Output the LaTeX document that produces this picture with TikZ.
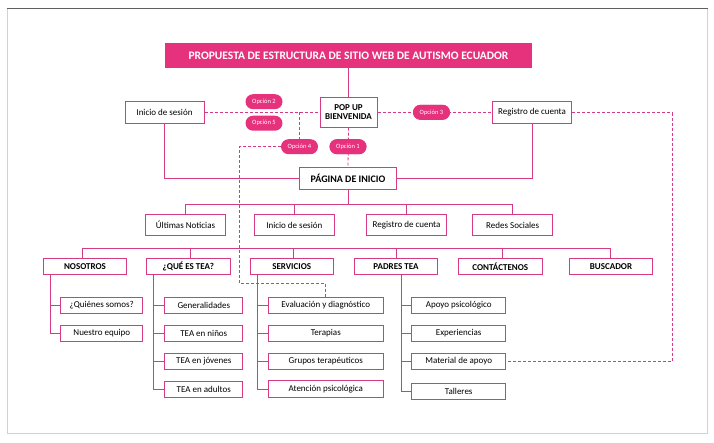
\documentclass[tikz,border=0pt]{standalone}
\usepackage{fontspec}
\setmainfont{Carlito}
\definecolor{pk}{HTML}{D63A84}
\definecolor{pkfill}{HTML}{E6317D}
\begin{document}
\begin{tikzpicture}[x=1pt,y=-1pt,
  bx/.style={draw=pk, line width=1pt, fill=white, inner sep=0pt, font=\fontsize{9}{10}\selectfont},
  hd/.style={bx, font=\fontsize{9}{10}\selectfont\bfseries, minimum width=83.4pt, minimum height=16pt},
  rowtwo/.style={bx, minimum width=80pt, minimum height=21pt},
  topbox/.style={bx, minimum width=79pt, minimum height=22pt},
  child/.style={bx, minimum height=16.4pt},
  pill/.style={fill=pkfill, text=white, rounded corners=7.5pt, minimum width=37pt, minimum height=15pt, inner sep=0pt, font=\fontsize{6.5}{7}\selectfont},
  ln/.style={draw=pk, line width=1pt},
  dl/.style={draw=pk, line width=0.8pt, dash pattern=on 3pt off 2pt}
]
\useasboundingbox (0,0) rectangle (714,442);
% frame
\draw[gray!35, line width=1pt] (7,8) rectangle (707.7,433);
\draw[gray!75!black, line width=1pt] (7,8) -- (707.7,8);

% top
\node[fill=pkfill, text=white, minimum width=367pt, minimum height=25pt, inner sep=0pt, font=\fontsize{11.5}{12}\selectfont\bfseries] (title) at (348.5,55.5) {PROPUESTA DE ESTRUCTURA DE SITIO WEB DE AUTISMO ECUADOR};
\node[bx, minimum width=57pt, minimum height=30pt, align=center, font=\fontsize{9}{9.5}\selectfont\bfseries] (popup) at (348.5,112) {POP UP\\BIENVENIDA};
\node[topbox] (ini1) at (164.5,112) {Inicio de sesión};
\node[topbox] (reg1) at (532,112.5) {Registro de cuenta};
\node[bx, minimum width=97pt, minimum height=22pt, font=\fontsize{10}{11}\selectfont\bfseries] (inicio) at (348,178.3) {PÁGINA DE INICIO};

% connectors top
\draw[ln] (title.south) -- (popup.north);
\draw[ln] (ini1.south) |- (inicio.west);
\draw[ln] (reg1.south) |- (inicio.east);
\draw[dl] (ini1.east) -- (popup.west);
\draw[dl] (popup.east) -- (reg1.west |- popup.east);
\draw[dl] (popup.south) -- (inicio.north);

% pills
\node[pill] (op2) at (264,101.7) {Opción 2};
\node[pill] (op5) at (264,123.2) {Opción 5};
\node[pill] (op4) at (299.5,146.7) {Opción 4};
\node[pill] (op1) at (348,146.7) {Opción 1};
\node[pill] (op3) at (431.5,112.3) {Opción 3};

% row 2
\node[rowtwo] (ult) at (185.5,225) {Últimas Noticias};
\node[rowtwo] (ini2) at (294.3,225) {Inicio de sesión};
\node[rowtwo] (reg2) at (406.5,225) {Registro de cuenta};
\node[rowtwo] (redes) at (512.7,225) {Redes Sociales};
\coordinate (b2) at (348,204.3);
\draw[ln] (inicio.south) -- (b2);
\draw[ln] (ult.north) |- (redes.north |- b2) -- (redes.north);
\draw[ln] (ini2.north) -- (ini2.north |- b2);
\draw[ln] (reg2.north) -- (reg2.north |- b2);

% row 3
\node[hd] (nos) at (85,266.3) {NOSOTROS};
\node[hd] (que) at (188.3,266.3) {¿QUÉ ES TEA?};
\node[hd] (serv) at (291.7,266.3) {SERVICIOS};
\node[hd] (padres) at (396,266.3) {PADRES TEA};
\node[hd] (cont) at (500.3,266.3) {CONTÁCTENOS};
\node[hd] (busc) at (611,266.3) {BUSCADOR};
\coordinate (b3) at (348,248.3);
\draw[ln] ([xshift=-2.5pt]nos.north) |- ([xshift=-0.3pt]busc.north |- b3) -- ([xshift=-0.3pt]busc.north);
\draw[ln] ([xshift=2pt]que.north) -- ([xshift=2pt]que.north |- b3);
\draw[ln] ([xshift=1.6pt]serv.north) -- ([xshift=1.6pt]serv.north |- b3);
\draw[ln] ([xshift=0.7pt]padres.north) -- ([xshift=0.7pt]padres.north |- b3);
\draw[ln] ([xshift=2pt]cont.north) -- ([xshift=2pt]cont.north |- b3);

% children: nosotros
\node[child, minimum width=81.7pt] (quien) at (101.8,305.5) {¿Quiénes somos?};
\node[child, minimum width=81.7pt] (nuestro) at (101.8,333.5) {Nuestro equipo};
\coordinate (spN) at ([xshift=7.4pt]nos.south west);
\draw[ln] (spN) |- (nuestro.west);
\draw[ln] (spN |- quien.west) -- (quien.west);

% children: que es tea
\node[child, minimum width=77.7pt] (gen) at (203.8,305.5) {Generalidades};
\node[child, minimum width=77.7pt] (ninos) at (203.8,333.5) {TEA en niños};
\node[child, minimum width=77.7pt] (jov) at (203.8,361.3) {TEA en jóvenes};
\node[child, minimum width=77.7pt] (adul) at (203.8,389.3) {TEA en adultos};
\coordinate (spQ) at ([xshift=7.6pt]que.south west);
\draw[ln] (spQ) |- (adul.west);
\draw[ln] (spQ |- gen.west) -- (gen.west);
\draw[ln] (spQ |- ninos.west) -- (ninos.west);
\draw[ln] (spQ |- jov.west) -- (jov.west);

% children: servicios
\node[child, minimum width=115pt] (eval) at (325.8,305.5) {Evaluación y diagnóstico};
\node[child, minimum width=115pt] (ter) at (325.8,333.5) {Terapias};
\node[child, minimum width=115pt] (grup) at (325.8,361.3) {Grupos terapéuticos};
\node[child, minimum width=115pt] (aten) at (325.8,389) {Atención psicológica};
\coordinate (spS) at ([xshift=8.3pt]serv.south west);
\draw[ln] (spS) |- (aten.west);
\draw[ln] (spS |- eval.west) -- (eval.west);
\draw[ln] (spS |- ter.west) -- (ter.west);
\draw[ln] (spS |- grup.west) -- (grup.west);

% children: padres
\node[child, minimum width=94pt] (apoyo) at (458.7,305.5) {Apoyo psicológico};
\node[child, minimum width=94pt] (exp) at (458.7,333.5) {Experiencias};
\node[child, minimum width=94pt] (mat) at (458.7,361.3) {Material de apoyo};
\node[child, minimum width=94pt] (tall) at (458.7,391.3) {Talleres};
\coordinate (spP) at ([xshift=5.7pt]padres.south);
\draw[ln] (spP) |- (tall.west);
\draw[ln] (spP |- apoyo.west) -- (apoyo.west);
\draw[ln] (spP |- exp.west) -- (exp.west);
\draw[ln] (spP |- mat.west) -- (mat.west);

% dashed routes
\coordinate (j4) at (op4.north |- popup.west);
\draw[dl] (j4) -- (op4.north);
\coordinate (d1) at (239.3,146.7);
\coordinate (d2) at (239.3,283.3);
\draw[dl] (op4.west) -- (d1) -- (d2) -| (eval.north);
\coordinate (d3) at (672,112.5);
\draw[dl] (reg1.east) -- (d3) |- (mat.east);

% redraw pills on top of dashed lines
\node[pill] at (op3) {Opción 3};
\node[pill] at (op1) {Opción 1};
\end{tikzpicture}
\end{document}
